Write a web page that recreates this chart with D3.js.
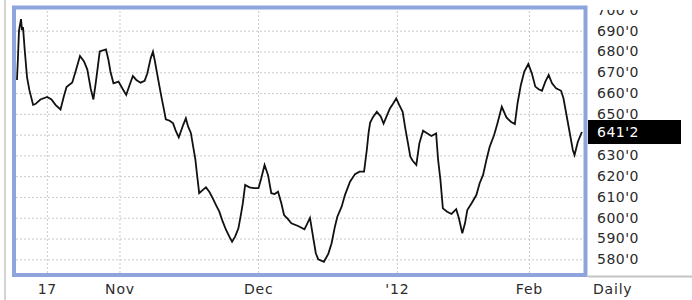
<!DOCTYPE html>
<html><head><meta charset="utf-8">
<script src="https://cdn.jsdelivr.net/npm/d3@7"></script>
<style>
html,body{margin:0;padding:0;background:#fff;overflow:hidden;}
svg{display:block;}
text{font-family:"DejaVu Sans",Verdana,sans-serif;}
</style></head><body>
<svg id="c" width="692" height="300"></svg>
<script>
// trading-day offsets from Oct 17 (fractional)
const days = [-4.52,-4.37,-4.22,-3.91,-3.76,-3.61,-3.35,-3.00,-2.65,-2.08,-1.74,-0.97,0.05,0.70,1.31,2.07,2.59,2.98,3.85,4.35,
5.02,5.63,6.13,6.64,7.05,7.40,7.66,8.01,8.95,9.33,9.63,10.09,10.85,11.51,12.02,12.53,13.03,13.55,14.20,14.81,
15.22,15.72,16.07,16.33,16.83,17.35,17.75,18.01,18.61,19.12,19.48,19.98,20.64,21.05,21.40,21.81,22.16,22.50,22.72,23.07,
23.59,24.09,24.60,25.11,25.62,26.12,26.64,27.14,27.64,28.05,28.51,29.01,29.42,29.68,30.03,30.69,31.35,32.05,32.47,32.97,
33.49,33.99,34.49,35.01,35.51,35.92,36.42,37.03,38.05,39.01,39.85,40.23,40.73,41.10,41.95,42.62,43.12,43.62,43.99,44.64,
45.14,45.91,46.67,47.34,48.04,48.45,48.71,48.95,49.36,49.97,50.58,50.99,51.38,51.95,52.40,52.91,53.36,53.88,54.28,54.69,
55.04,55.40,55.95,56.41,56.97,57.58,58.23,58.95,59.25,59.60,59.97,60.62,61.28,61.99,62.40,62.91,63.32,63.67,64.32,65.04,
65.54,66.06,66.56,67.06,67.73,68.23,68.89,69.60,70.26,70.87,71.28,71.78,72.30,72.91,73.44,73.97,74.47,74.98,75.49,75.99,
76.50,77.11,77.87,78.23,78.74,79.24,79.65,79.91,80.41,81.02];
const prices = [666.3,677.3,689.9,695.6,690.3,691.8,680.7,667.7,661.5,654.3,654.7,656.9,658.1,656.9,654.3,652.1,658.6,662.9,665.1,670.4,
677.8,675.2,671.3,662.2,656.9,664.8,671.1,680.0,681.0,675.9,670.4,664.7,665.5,661.8,659.1,663.9,668.2,666.3,665.0,665.9,
669.5,676.7,679.9,675.9,667.1,658.2,651.8,647.4,646.7,645.4,642.2,638.7,644.6,647.8,643.8,640.8,634.2,627.8,621.4,611.8,
613.3,614.6,612.5,609.4,606.1,602.9,598.1,594.1,590.9,588.5,590.9,594.9,602.1,607.0,615.8,614.6,614.2,614.2,619.0,625.4,
620.6,611.8,611.4,612.5,607.0,601.3,599.7,597.3,596.0,594.4,599.9,592.5,582.9,580.0,578.8,582.6,587.7,595.7,600.5,605.3,
610.9,617.3,621.0,622.2,622.2,632.6,640.6,645.7,648.3,651.0,648.6,645.3,648.3,652.6,654.7,657.4,654.3,651.0,643.0,635.8,
629.4,627.4,625.4,635.8,641.9,640.6,639.3,640.6,627.8,618.2,604.5,602.9,601.8,604.1,599.7,592.5,597.3,603.7,607.0,610.9,
616.6,620.6,627.8,634.2,639.8,645.4,653.4,648.3,646.2,645.1,655.1,663.9,670.3,674.0,669.5,663.1,661.8,661.1,665.5,668.7,
664.7,662.3,661.1,657.5,648.6,639.8,632.6,630.2,636.6,641.25];

const yTicks = [580,590,600,610,620,630,640,650,660,670,680,690,700];
const yTickLabels = ["580'0","590'0","600'0","610'0","620'0","630'0","640'0","650'0","660'0","670'0","680'0","690'0","700'0"];
const xTickDays = [0,11,32,53,73];
const xTickLabels = ["17","Nov","Dec","'12","Feb"];
const lastPrice = 641.25;
const lastLabel = "641'2";
const periodLabel = "Daily";

const svg = d3.select("#c");
const L = 16, R = 583, T = 9, B = 273;
const x = d3.scaleLinear().domain([-4.67, 81.19]).range([L, R]);
const y = d3.scaleLinear().domain([573.4, 700.45]).range([B, T]);

// outer gray lines
svg.append("line").attr("x1",5).attr("x2",5).attr("y1",0).attr("y2",300)
  .attr("stroke","#d4d4d4").attr("stroke-width",2);
svg.append("line").attr("x1",588).attr("x2",692).attr("y1",276.5).attr("y2",276.5)
  .attr("stroke","#c4c4c4").attr("stroke-width",2);

const defs = svg.append("defs");
defs.append("clipPath").attr("id","plotclip").append("rect")
  .attr("x",L).attr("y",T).attr("width",R-L).attr("height",B-T);
defs.append("clipPath").attr("id","labclip").append("rect")
  .attr("x",588).attr("y",10).attr("width",110).attr("height",290);

// gridlines
const grid = svg.append("g").attr("clip-path","url(#plotclip)");
grid.append("g").attr("transform",`translate(${L},0)`)
  .call(d3.axisLeft(y).tickValues(yTicks.filter(v => y(v) > T + 4)).tickSize(-(R-L)).tickFormat(""))
  .call(g => g.select(".domain").remove())
  .call(g => g.selectAll("line").attr("stroke","#c9c9c9").attr("stroke-dasharray","2,2"));
grid.append("g").attr("transform",`translate(0,${B})`)
  .call(d3.axisBottom(x).tickValues(xTickDays).tickSize(-(B-T)).tickFormat(""))
  .call(g => g.select(".domain").remove())
  .call(g => g.selectAll("line").attr("stroke","#c9c9c9").attr("stroke-dasharray","2,2"));

// price line
const pts = days.map((d,i) => [d, prices[i]]);
svg.append("path").datum(pts)
  .attr("clip-path","url(#plotclip)")
  .attr("fill","none").attr("stroke","#111").attr("stroke-width",1.8)
  .attr("stroke-linejoin","miter")
  .attr("d", d3.line().x(d => x(d[0])).y(d => y(d[1])));

// frame
svg.append("rect").attr("x",14).attr("y",7.5).attr("width",571.5).attr("height",267.5)
  .attr("fill","none").attr("stroke","#8ea4dd").attr("stroke-width",4);

// y labels (the ones under the last-value box are hidden there)
const boxY = y(lastPrice);
const labelTicks = yTicks.filter(v => Math.abs(y(v) - boxY) > 16);
const yax = svg.append("g").attr("clip-path","url(#labclip)")
  .append("g").attr("transform","translate(597,0)")
  .call(d3.axisRight(y).tickValues(labelTicks).tickSize(0).tickPadding(0)
    .tickFormat(d => yTickLabels[yTicks.indexOf(d)]));
yax.select(".domain").remove();
yax.selectAll("text").attr("fill","#2b2b2b").style("font-size","14px").style("letter-spacing","0.5px")
  .style("font-family","'DejaVu Sans',Verdana,sans-serif");

// last value box
svg.append("rect").attr("x",588).attr("y",boxY-12).attr("width",93).attr("height",24).attr("fill","#000");
svg.append("text").attr("x",597).attr("y",boxY).attr("dy","0.35em")
  .attr("fill","#fff").style("font-size","14px").style("letter-spacing","0.5px").text(lastLabel);

// x labels
const xax = svg.append("g").attr("transform","translate(0,284)")
  .call(d3.axisBottom(x).tickValues(xTickDays).tickSize(0).tickPadding(0)
    .tickFormat((d,i) => xTickLabels[i]));
xax.select(".domain").remove();
xax.selectAll("text").attr("fill","#2b2b2b").style("font-size","14px").style("letter-spacing","0.8px")
  .style("font-family","'DejaVu Sans',Verdana,sans-serif");

svg.append("text").attr("x",593).attr("y",294).attr("fill","#2b2b2b")
  .style("font-size","14px").style("letter-spacing","0.8px").text(periodLabel);
</script>
</body></html>
